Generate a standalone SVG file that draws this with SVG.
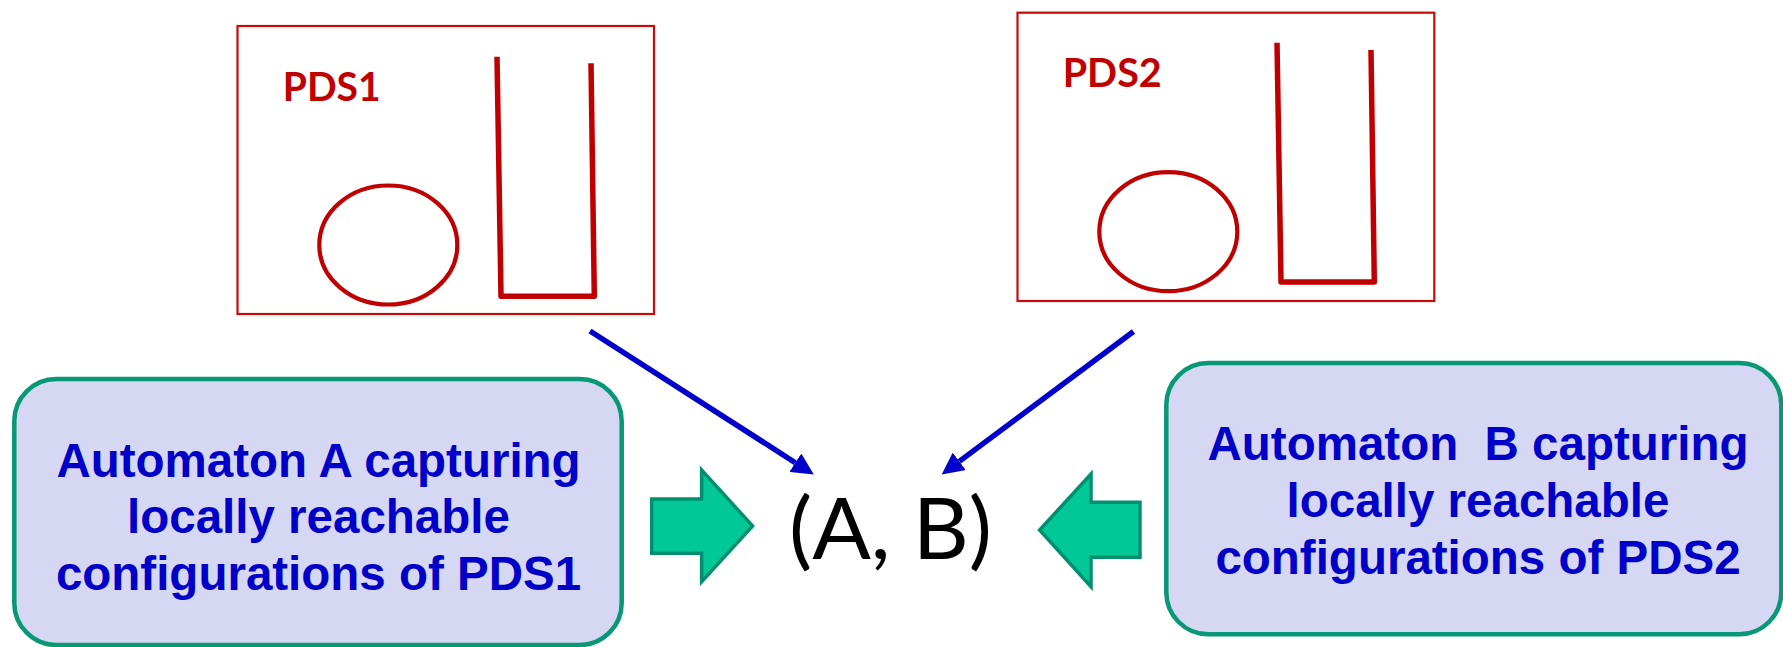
<svg xmlns="http://www.w3.org/2000/svg" width="1783" height="647" viewBox="0 0 1783 647">
  <style>
    .frame { fill: #ffffff; stroke: #c80a0a; stroke-width: 2.2; }
    .stack { fill: none; stroke: #c00000; stroke-width: 5.5; stroke-linejoin: round; stroke-linecap: butt; }
    .state { fill: none; stroke: #c00000; stroke-width: 4.2; }
    .pds-label { font-family: Lato, "Open Sans", "Liberation Sans", sans-serif; font-weight: 700; font-size: 41px; fill: #c00000; }
    .auto-box { fill: #d6d7f3; stroke: #079875; stroke-width: 4.5; }
    .auto-text { font-family: "Liberation Sans", Arial, sans-serif; font-weight: 700; font-size: 47.5px; fill: #0000c8; text-anchor: middle; }
    .pair { font-family: Lato, "Noto Sans", sans-serif; font-size: 86px; fill: #000000; }
    .link { fill: none; stroke: #0000cc; stroke-width: 5.5; marker-end: url(#head); }
    .block { fill: #00c896; stroke: #009070; stroke-width: 3.5; stroke-linejoin: miter; }
  </style>
  <defs>
    <marker id="head" markerUnits="userSpaceOnUse" viewBox="0 0 22 22" markerWidth="22" markerHeight="22" refX="0" refY="11" orient="auto">
      <path d="M0,0 L22,11 L0,22 Z" fill="#0000cc"/>
    </marker>
  </defs>

  <!-- pushdown system 1: control state and stack -->
  <g id="pds1">
    <rect class="frame" x="237.5" y="26" width="416.5" height="288"/>
    <text class="pds-label" x="282.7" y="100.7" textLength="98" lengthAdjust="spacingAndGlyphs">PDS1</text>
    <ellipse class="state" cx="388.3" cy="245" rx="69" ry="59.5"/>
    <polyline class="stack" points="497,56.7 501,296.3 594.3,296.3 591,63.3"/>
  </g>

  <!-- pushdown system 2: control state and stack -->
  <g id="pds2">
    <rect class="frame" x="1017.5" y="12.7" width="416.8" height="288.3"/>
    <text class="pds-label" x="1062.7" y="87.3" textLength="99" lengthAdjust="spacingAndGlyphs">PDS2</text>
    <ellipse class="state" cx="1168.3" cy="231.7" rx="69" ry="59.5"/>
    <polyline class="stack" points="1277,42.7 1281,282 1374.3,282 1371,50"/>
  </g>

  <!-- automaton for PDS1 -->
  <g id="automaton-a">
    <rect class="auto-box" x="14.3" y="379" width="607.4" height="266" rx="42" ry="42"/>
    <text class="auto-text" x="318.5" y="476.7">Automaton A capturing</text>
    <text class="auto-text" x="318.5" y="533">locally reachable</text>
    <text class="auto-text" x="318.5" y="590">configurations of PDS1</text>
  </g>

  <!-- automaton for PDS2 -->
  <g id="automaton-b">
    <rect class="auto-box" x="1166.3" y="363" width="615" height="271.3" rx="42" ry="42"/>
    <text class="auto-text" x="1478" y="460">Automaton&#160; B capturing</text>
    <text class="auto-text" x="1478" y="517">locally reachable</text>
    <text class="auto-text" x="1478" y="574">configurations of PDS2</text>
  </g>

  <!-- product pair -->
  <g id="pair">
    <text class="pair" x="789" y="559" textLength="203" lengthAdjust="spacingAndGlyphs">(A, B)</text>
  </g>

  <!-- connectors -->
  <g id="connectors">
    <line class="link" x1="590" y1="331" x2="795.3" y2="462.7"/>
    <line class="link" x1="1133.5" y1="331.5" x2="959.3" y2="461.4"/>
    <polygon class="block" points="651.7,499 701.6,499 701.6,470 752.6,526 701.6,581.7 701.6,553.3 651.7,553.3"/>
    <polygon class="block" points="1140,502.3 1091,502.3 1091,474 1039.6,530 1091,586.7 1091,557.3 1140,557.3"/>
  </g>
</svg>
